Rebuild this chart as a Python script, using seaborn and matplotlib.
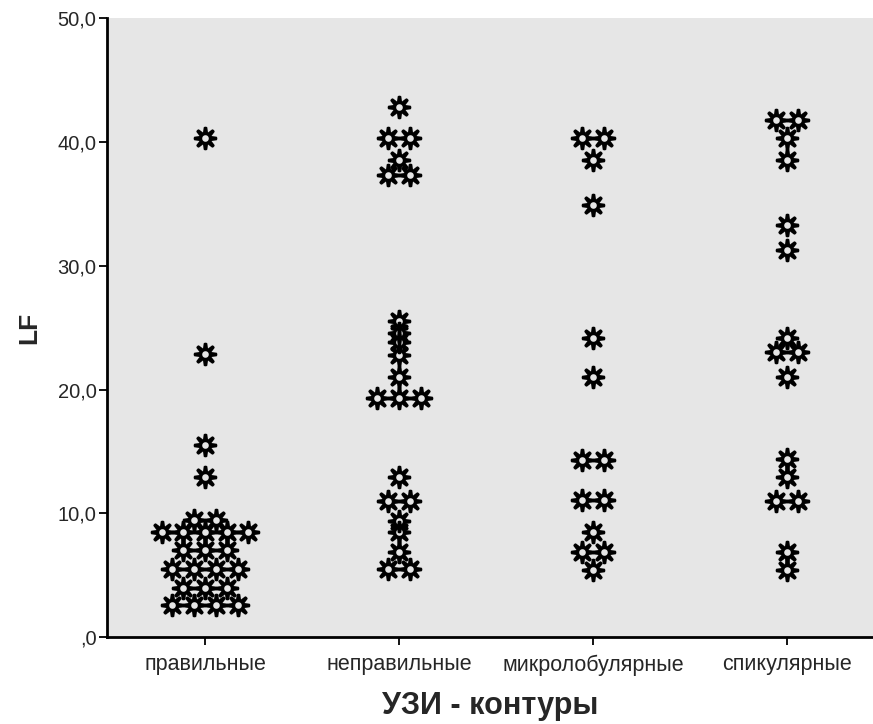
import numpy as np
import pandas as pd
import matplotlib
matplotlib.use("Agg")
import matplotlib.pyplot as plt
from matplotlib.path import Path
import seaborn as sns

# categories on the x axis
categories = ["правильные", "неправильные", "микролобулярные", "спикулярные"]

# LF values, one list per category
lf_regular = [40.3, 22.9, 15.5, 12.9, 9.5, 9.5, 8.5, 8.5, 8.5, 8.5, 8.5,
              7.0, 7.0, 7.0, 5.5, 5.5, 5.5, 5.5, 4.0, 4.0, 4.0,
              2.6, 2.6, 2.6, 2.6]
lf_irregular = [42.8, 40.3, 40.3, 38.5, 37.3, 37.3,
                25.5, 24.6, 23.8, 22.8, 21.0, 19.3, 19.3, 19.3,
                12.9, 11.0, 11.0, 9.4, 8.5, 6.9, 5.5, 5.5]
lf_microlob = [40.3, 40.3, 38.5, 34.9, 24.2, 21.0, 14.3, 14.3,
               11.1, 11.1, 8.5, 6.9, 6.9, 5.4]
lf_spicul = [41.8, 41.8, 40.3, 38.5, 33.3, 31.3, 24.2, 23.0, 23.0, 21.0,
             14.4, 12.9, 11.0, 11.0, 6.9, 5.4]

y_ticks = [0, 10, 20, 30, 40, 50]
y_ticklabels = [",0", "10,0", "20,0", "30,0", "40,0", "50,0"]

# SPSS dot plot: equal values are stacked side by side, centred on the category
step = 0.112
frames = []
for i, vals in enumerate([lf_regular, lf_irregular, lf_microlob, lf_spicul]):
    s = pd.Series(vals, dtype=float)
    rank = s.groupby(s).cumcount()
    count = s.map(s.value_counts())
    frames.append(pd.DataFrame({"group": categories[i], "LF": s,
                                "pos": i + (rank - (count - 1) / 2) * step}))
df = pd.concat(frames, ignore_index=True)

# SPSS-like star marker: 8 spikes around a ring with a hollow centre
r0, w_base, w_tip, r_hole = 0.56, 0.21, 0.15, 0.28
verts = []
for k in range(8):
    th = np.pi / 2 + k * np.pi / 4
    d = np.array([np.cos(th), np.sin(th)])
    p = np.array([-np.sin(th), np.cos(th)])
    base = np.sqrt(r0 ** 2 - w_base ** 2)
    verts += [base * d - w_base * p, 0.95 * d - w_tip * p, d - 0.06 * p,
              d + 0.06 * p, 0.95 * d + w_tip * p, base * d + w_base * p]
    a0 = th + np.arcsin(w_base / r0)
    a1 = th + np.pi / 4 - np.arcsin(w_base / r0)
    for a in np.linspace(a0, a1, 5)[1:-1]:
        verts.append(r0 * np.array([np.cos(a), np.sin(a)]))
gear = Path(np.array(verts), closed=True)
t = np.linspace(2 * np.pi, 0, 25)
hole = Path(np.column_stack([r_hole * np.cos(t), r_hole * np.sin(t)]), closed=True)
marker = Path.make_compound_path(gear, hole)

sns.set_style("white")
plt.rcParams['font.family'] = ['Liberation Sans', 'DejaVu Sans']

fig = plt.figure(figsize=(8.73, 7.24), dpi=100)
ax = fig.add_axes([0.1226, 0.12, 0.8774, 0.855])
ax.set_facecolor("#e6e6e6")

sns.scatterplot(data=df, x="pos", y="LF", ax=ax, marker=marker, s=17 ** 2,
                color="black", linewidth=0, legend=False)

ax.set_ylim(0, 50)
ax.set_xlim(-0.505, 3.443)
ax.set_xticks(range(len(categories)))
ax.set_xticklabels(categories)
ax.set_yticks(y_ticks)
ax.set_yticklabels(y_ticklabels)
ax.tick_params(axis="both", direction="out", length=5.5, width=1.3, color="black",
               labelsize=14.5, left=True, bottom=True, pad=2)
ax.tick_params(axis="x", labelsize=15.5, pad=7)

for side in ["top", "right"]:
    ax.spines[side].set_visible(False)
for side in ["left", "bottom"]:
    ax.spines[side].set_color("black")
    ax.spines[side].set_linewidth(2)

ax.set_xlabel("УЗИ - контуры", fontsize=22, fontweight="bold", labelpad=11)
ax.set_ylabel("LF", fontsize=19, fontweight="bold", labelpad=12)

fig.savefig("out.png", dpi=100)
